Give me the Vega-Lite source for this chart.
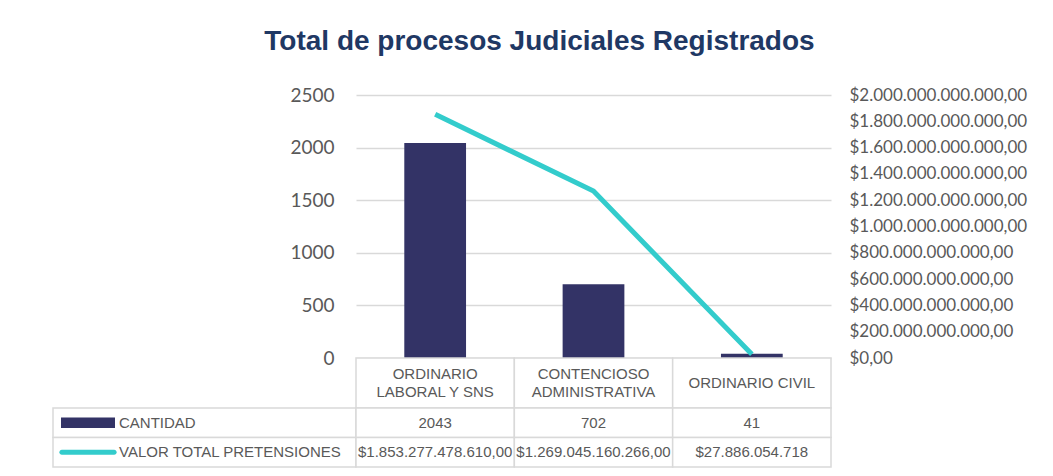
{
  "$schema": "https://vega.github.io/schema/vega-lite/v6.json",
  "padding": {"left": 52, "top": 28, "right": 5, "bottom": 5},
  "autosize": {"type": "pad"},
  "background": "white",
  "title": {
    "text": "Total de procesos Judiciales Registrados",
    "font": "Liberation Sans",
    "fontSize": 28,
    "fontWeight": "bold",
    "color": "#1f3864",
    "anchor": "middle",
    "offset": 30
  },
  "config": {
    "view": {"stroke": null},
    "locale": {
      "number": {"decimal": ",", "thousands": ".", "grouping": [3], "currency": ["$", ""]}
    }
  },
  "datasets": {
    "procesos": [
      {"categoria": "ORDINARIO\nLABORAL Y SNS", "CANTIDAD": 2043, "valor": 1853277478610, "VALOR TOTAL PRETENSIONES": "$1.853.277.478.610,00"},
      {"categoria": "CONTENCIOSO\nADMINISTRATIVA", "CANTIDAD": 702, "valor": 1269045160266, "VALOR TOTAL PRETENSIONES": "$1.269.045.160.266,00"},
      {"categoria": "ORDINARIO CIVIL", "CANTIDAD": 41, "valor": 27886054718, "VALOR TOTAL PRETENSIONES": "$27.886.054.718"}
    ],
    "series": [
      {"serie": "CANTIDAD"},
      {"serie": "VALOR TOTAL PRETENSIONES"}
    ]
  },
  "columns": 2,
  "spacing": 0,
  "bounds": "flush",
  "concat": [
    {
      "width": 303,
      "height": 263,
      "data": {"values": []},
      "mark": "point",
      "encoding": {}
    },
    {
      "width": 475,
      "height": 263,
      "data": {"name": "procesos"},
      "encoding": {
        "x": {
          "field": "categoria",
          "type": "nominal",
          "sort": null,
          "scale": {"paddingInner": 0.61, "paddingOuter": 0.305},
          "axis": null
        }
      },
      "layer": [
        {
          "mark": {"type": "bar", "color": "#333366"},
          "encoding": {
            "y": {
              "field": "CANTIDAD",
              "type": "quantitative",
              "scale": {"domain": [0, 2500]},
              "axis": {
                "title": null,
                "values": [0, 500, 1000, 1500, 2000, 2500],
                "format": "d",
                "grid": true,
                "gridColor": "#d9d9d9",
                "gridWidth": 1.5,
                "domain": false,
                "ticks": false,
                "labelFont": "Lato",
                "labelFontSize": 19,
                "labelColor": "#595959",
                "labelPadding": 22
              }
            }
          }
        },
        {
          "mark": {"type": "line", "color": "#33cccc", "strokeWidth": 5},
          "encoding": {
            "y": {
              "field": "valor",
              "type": "quantitative",
              "scale": {"domain": [0, 2000000000000]},
              "axis": {
                "orient": "right",
                "title": null,
                "values": [0, 200000000000, 400000000000, 600000000000, 800000000000, 1000000000000, 1200000000000, 1400000000000, 1600000000000, 1800000000000, 2000000000000],
                "format": "$,.2f",
                "grid": false,
                "domain": false,
                "ticks": false,
                "labelFont": "Lato",
                "labelFontSize": 17,
                "labelColor": "#595959",
                "labelPadding": 18
              }
            }
          }
        }
      ],
      "resolve": {"scale": {"y": "independent"}}
    },
    {
      "width": 303,
      "height": 50,
      "data": {"values": []},
      "mark": "point",
      "encoding": {}
    },
    {
      "width": 475,
      "height": 50,
      "data": {"name": "procesos"},
      "encoding": {
        "x": {
          "field": "categoria",
          "type": "nominal",
          "sort": null,
          "scale": {"paddingInner": 0, "paddingOuter": 0},
          "axis": null
        }
      },
      "layer": [
        {"mark": {"type": "rect", "fill": "white", "stroke": "#d9d9d9", "strokeWidth": 1.5}},
        {
          "transform": [{"filter": "indexof(datum.categoria, '\\n') >= 0"}],
          "mark": {"type": "text", "lineBreak": "\n", "dy": -9, "font": "Liberation Sans", "fontSize": 15, "color": "#595959", "lineHeight": 18},
          "encoding": {"text": {"field": "categoria", "type": "nominal"}}
        },
        {
          "transform": [{"filter": "indexof(datum.categoria, '\\n') < 0"}],
          "mark": {"type": "text", "font": "Liberation Sans", "fontSize": 15, "color": "#595959"},
          "encoding": {"text": {"field": "categoria", "type": "nominal"}}
        }
      ]
    },
    {
      "width": 303,
      "height": 59,
      "data": {"name": "series"},
      "encoding": {
        "y": {"field": "serie", "type": "nominal", "sort": null, "scale": {"paddingInner": 0, "paddingOuter": 0}, "axis": null}
      },
      "layer": [
        {"mark": {"type": "rect", "fill": "white", "stroke": "#d9d9d9", "strokeWidth": 1.5}},
        {
          "mark": {"type": "point", "filled": true, "opacity": 1, "size": 2916, "xOffset": -116.5},
          "encoding": {
            "shape": {
              "condition": {"test": "datum.serie == 'CANTIDAD'", "value": "M-1,-0.19L1,-0.19L1,0.19L-1,0.19Z"},
              "value": "M-0.97,-0.09L0.97,-0.09A0.09,0.09 0 0 1 0.97,0.09L-0.97,0.09A0.09,0.09 0 0 1 -0.97,-0.09Z"
            },
            "color": {
              "condition": {"test": "datum.serie == 'CANTIDAD'", "value": "#333366"},
              "value": "#33cccc"
            }
          }
        },
        {
          "mark": {"type": "text", "align": "left", "dx": -85.5, "font": "Liberation Sans", "fontSize": 15, "color": "#595959"},
          "encoding": {"text": {"field": "serie", "type": "nominal"}}
        }
      ]
    },
    {
      "width": 475,
      "height": 59,
      "data": {"name": "procesos"},
      "transform": [
        {"fold": ["CANTIDAD", "VALOR TOTAL PRETENSIONES"], "as": ["serie", "texto"]}
      ],
      "encoding": {
        "x": {
          "field": "categoria",
          "type": "nominal",
          "sort": null,
          "scale": {"paddingInner": 0, "paddingOuter": 0},
          "axis": null
        },
        "y": {
          "field": "serie",
          "type": "nominal",
          "sort": ["CANTIDAD", "VALOR TOTAL PRETENSIONES"],
          "scale": {"paddingInner": 0, "paddingOuter": 0},
          "axis": null
        }
      },
      "layer": [
        {"mark": {"type": "rect", "fill": "white", "stroke": "#d9d9d9", "strokeWidth": 1.5}},
        {
          "mark": {"type": "text", "font": "Liberation Sans", "fontSize": 15, "color": "#595959"},
          "encoding": {"text": {"field": "texto", "type": "nominal"}}
        }
      ]
    }
  ]
}
